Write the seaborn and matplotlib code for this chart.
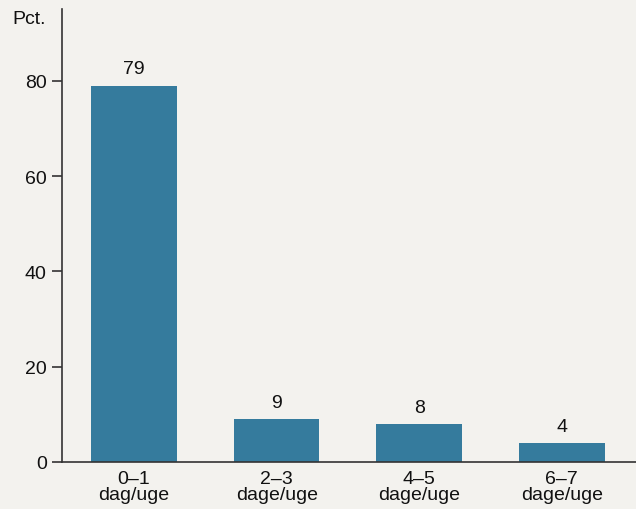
import matplotlib
matplotlib.use("Agg")
import matplotlib.pyplot as plt
import seaborn as sns
import pandas as pd

categories = ["0–1\ndag/uge", "2–3\ndage/uge", "4–5\ndage/uge", "6–7\ndage/uge"]
values = [79, 9, 8, 4]
y_ticks = [0, 20, 40, 60, 80]

bg = "#F3F2EE"
bar_color = "#357B9D"
ink = "#111111"
fs = 14

sns.set_theme(style="white")
plt.rcParams["font.family"] = ["Liberation Sans", "DejaVu Sans"]

df = pd.DataFrame({"kategori": categories, "pct": values})

fig = plt.figure(figsize=(6.36, 5.10), dpi=100, facecolor=bg)
ax = fig.add_axes([62 / 636, 47 / 510, 574 / 636, (463 - 10) / 510])
ax.set_facecolor(bg)

sns.barplot(data=df, x="kategori", y="pct", color=bar_color, saturation=1,
            width=0.6, linewidth=0, edgecolor="none", ax=ax)

for i, v in enumerate(values):
    ax.annotate(f"{v}", (i, v), xytext=(0, 6), textcoords="offset points",
                ha="center", va="bottom", fontsize=fs, color=ink)

ax.set_xlim(-0.505, 3.52)
ax.set_ylim(0, 95.1)
ax.set_yticks(y_ticks)
ax.set_xlabel("")
ax.set_ylabel("")

for side in ["top", "right"]:
    ax.spines[side].set_visible(False)
for side in ["left", "bottom"]:
    ax.spines[side].set_color("#333333")
    ax.spines[side].set_linewidth(1.2)

ax.tick_params(axis="y", direction="out", length=7, width=1.2, color="#333333",
               labelsize=fs, labelcolor=ink, pad=4, left=True)
ax.tick_params(axis="x", length=0, labelsize=fs, labelcolor=ink, pad=6)
for lbl in ax.get_xticklabels():
    lbl.set_linespacing(0.92)

fig.text(12 / 636, 1 - 19 / 510, "Pct.", fontsize=fs, color=ink,
         ha="left", va="center")

fig.savefig("out.png", dpi=100, facecolor=bg)
